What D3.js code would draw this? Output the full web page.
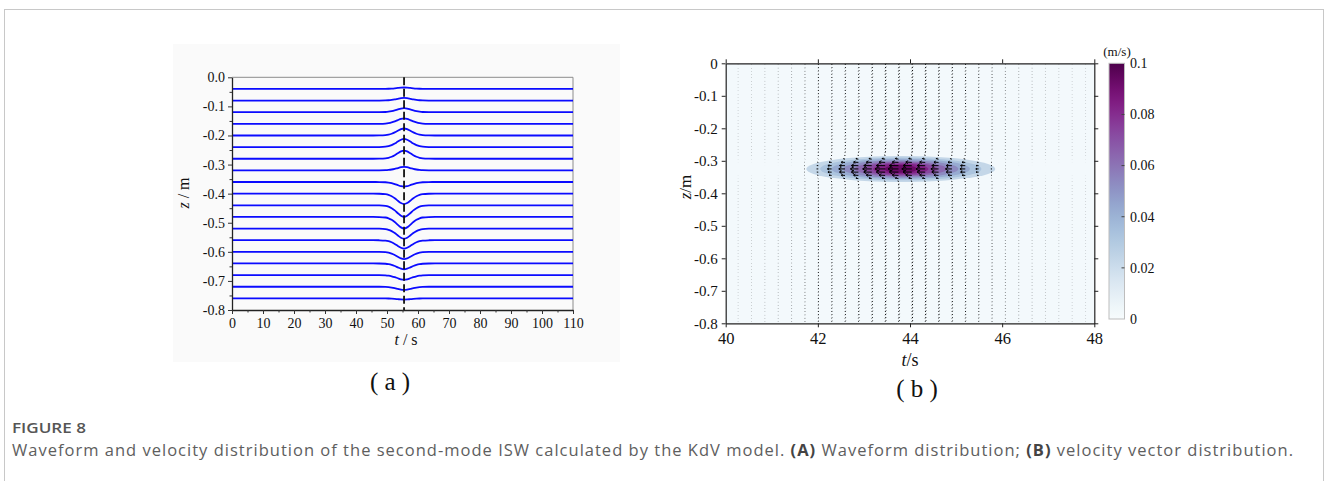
<!DOCTYPE html>
<html>
<head>
<meta charset="utf-8">
<script src="https://cdn.jsdelivr.net/npm/d3@7"></script>
<style>
body { margin: 0; background: #fff; }
</style>
</head>
<body>
<svg id="fig" width="1328" height="481"></svg>
<script>

//******************************************************************************
//**  Data
//******************************************************************************

// (a) waveform: rest depth of each isopycnal line (m) and its peak displacement (m)
var levelsZ = [-0.04, -0.08, -0.12, -0.16, -0.20, -0.24, -0.28, -0.32, -0.36, -0.40,
               -0.44, -0.48, -0.52, -0.56, -0.60, -0.64, -0.68, -0.72, -0.76];
var amplitudes = [0.005, 0.009, 0.014, 0.019, 0.024, 0.028, 0.028, 0.012, -0.016, -0.036,
                  -0.040, -0.040, -0.035, -0.029, -0.025, -0.020, -0.016, -0.011, -0.004];
var waveCenter = 55.5;   // s, dashed line
// relative shape of the wave around its centre (s offset, fraction of peak)
var profileDt  = [-12, -10, -8, -6, -5, -4, -3, -2, -1, 0, 1, 2, 3, 4, 5, 6, 8, 10, 12];
var profileVal = [0, 0, 0.01, 0.05, 0.12, 0.25, 0.44, 0.68, 0.9, 1, 0.9, 0.68, 0.44, 0.25, 0.12, 0.05, 0.01, 0, 0];

var xTicksA = [0, 10, 20, 30, 40, 50, 60, 70, 80, 90, 100, 110];
var xMinorA = [5, 15, 25, 35, 45, 55, 65, 75, 85, 95, 105];
var yTicks  = [0, -0.1, -0.2, -0.3, -0.4, -0.5, -0.6, -0.7, -0.8];
var yMinorA = [-0.05, -0.15, -0.25, -0.35, -0.45, -0.55, -0.65, -0.75];

// (b) velocity field
var coreT = 43.8, coreZ = -0.325;
var backgroundSpeed = 0.002;
// filled contour bands: level (m/s), half extent in t (s) and in z (m)
var bandLevel = [0.01, 0.02, 0.03, 0.04, 0.05, 0.06, 0.07, 0.08];
var bandHalfT = [2.05, 1.75, 1.5, 1.25, 1.0, 0.8, 0.6, 0.35];
var bandHalfZ = [0.040, 0.035, 0.031, 0.027, 0.023, 0.020, 0.016, 0.012];

// quiver columns: time (s), peak horizontal speed at the core (m/s), vertical speed (m/s)
var colT = [40.27, 40.56, 40.85, 41.14, 41.43, 41.72, 42.01, 42.30, 42.59, 42.88, 43.17, 43.46, 43.75, 44.04,
            44.33, 44.62, 44.91, 45.20, 45.49, 45.78, 46.07, 46.36, 46.65, 46.94, 47.23, 47.52, 47.81];
var colU = [0, 0, 0, 0, 0, 0.005, 0.015, 0.036, 0.053, 0.068, 0.077, 0.085, 0.088, 0.085,
            0.078, 0.065, 0.055, 0.045, 0.024, 0.01, 0.003, 0, 0, 0, 0, 0, 0];
var colW = [0.0009, 0.001, 0.0012, 0.0014, 0.0018, 0.0028, 0.0055, 0.0055, 0.006, 0.0065, 0.007, 0.008, 0.0085, 0.0085,
            0.008, 0.0075, 0.0065, 0.0055, 0.0045, 0.0035, 0.0025, 0.0018, 0.0014, 0.0012, 0.001, 0.0009, 0.0008];
// across the core (row offset from core, m): horizontal speed relative to the column peak,
// and vertical speed relative to the column value
var rowDz = [-0.06, -0.05, -0.04, -0.03, -0.02, -0.01, 0, 0.01, 0.02, 0.03, 0.04, 0.05, 0.06];
var rowU  = [0.08, 0.05, -0.05, -0.3, -0.6, -0.88, -1, -0.88, -0.6, -0.3, -0.05, 0.05, 0.08];
var rowW  = [1, 1, 0.9, 0.5, 0.25, 0.1, 0, 0.1, 0.25, 0.5, 0.9, 1, 1];
var farU  = 0.1;

var xTicksB = [40, 42, 44, 46, 48];
var cbarTicks = [0, 0.02, 0.04, 0.06, 0.08, 0.1];


//******************************************************************************
//**  Drawing
//******************************************************************************
var svg = d3.select("#fig");
var serif = "Liberation Serif, Times New Roman, serif";
var defs = svg.append("defs");

var styleTicks = function(g, size){
    g.attr("font-family", serif).attr("font-size", size);
    g.selectAll("text")
        .attr("font-family", serif)
        .attr("font-size", size + "px")
        .attr("fill", "#111");
};

// outer frame of the figure
svg.append("rect")
    .attr("x", 4.5).attr("y", 9.5)
    .attr("width", 1319).attr("height", 520)
    .attr("fill", "none").attr("stroke", "#c8c8c8");


//**************************************************************************
//** Panel (a)
//**************************************************************************
var gA = svg.append("g").attr("font-family", serif);

gA.append("rect")
    .attr("x", 173).attr("y", 44)
    .attr("width", 447).attr("height", 318)
    .attr("fill", "#fafafa");

var xA = d3.scaleLinear().domain([0, 110]).range([232, 573]);
var yA = d3.scaleLinear().domain([0, -0.8]).range([77.3, 310]);

// top and right border are lighter
gA.append("path")
    .attr("d", "M" + xA(0) + "," + yA(0) + "H" + xA(110) + "V" + yA(-0.8))
    .attr("fill", "none").attr("stroke", "#8c8c8c").attr("stroke-width", 1);

var waveLine = d3.line()
    .x(function(d){ return xA(d[0]); })
    .y(function(d){ return yA(d[1]); })
    .curve(d3.curveMonotoneX);

levelsZ.forEach(function(z0, i){
    var pts = [[0, z0]];
    profileDt.forEach(function(dt, j){
        pts.push([waveCenter + dt, z0 + amplitudes[i] * profileVal[j]]);
    });
    pts.push([110, z0]);
    gA.append("path")
        .attr("d", waveLine(pts))
        .attr("fill", "none")
        .attr("stroke", "#0b0bff")
        .attr("stroke-width", 1.8);
});

gA.append("line")
    .attr("x1", xA(waveCenter)).attr("x2", xA(waveCenter))
    .attr("y1", yA(0)).attr("y2", yA(-0.8))
    .attr("stroke", "#111").attr("stroke-width", 1.8)
    .attr("stroke-dasharray", "8,3.5");

var fmtA = function(d){ return d === 0 ? "0.0" : d.toFixed(1); };

gA.append("g")
    .attr("transform", "translate(0," + yA(-0.8) + ")")
    .call(d3.axisBottom(xA).tickValues(xTicksA).tickSize(4).tickSizeOuter(0).tickPadding(4))
    .call(styleTicks, 14);
gA.append("g")
    .attr("transform", "translate(0," + yA(-0.8) + ")")
    .call(d3.axisBottom(xA).tickValues(xMinorA).tickSize(2.5).tickSizeOuter(0).tickFormat(""))
    .select(".domain").remove();
gA.append("g")
    .attr("transform", "translate(" + xA(0) + ",0)")
    .call(d3.axisLeft(yA).tickValues(yTicks).tickFormat(fmtA).tickSize(4).tickSizeOuter(0).tickPadding(3))
    .call(styleTicks, 14);
gA.append("g")
    .attr("transform", "translate(" + xA(0) + ",0)")
    .call(d3.axisLeft(yA).tickValues(yMinorA).tickSize(2.5).tickSizeOuter(0).tickFormat(""))
    .select(".domain").remove();

gA.selectAll(".domain").attr("stroke", "#222").attr("stroke-width", 1.3);
gA.selectAll(".tick line").attr("stroke", "#333");

gA.append("text")
    .attr("x", 406).attr("y", 345)
    .attr("text-anchor", "middle").attr("font-size", "16px").attr("fill", "#111")
    .html("<tspan font-style='italic'>t</tspan> / s");
gA.append("text")
    .attr("transform", "translate(189,193) rotate(-90)")
    .attr("text-anchor", "middle").attr("font-size", "16px").attr("fill", "#111")
    .html("<tspan font-style='italic'>z</tspan> / m");
gA.append("text")
    .attr("x", 390).attr("y", 390)
    .attr("text-anchor", "middle").attr("font-size", "25px").attr("fill", "#111")
    .text("( a )");


//**************************************************************************
//** Panel (b)
//**************************************************************************
var gB = svg.append("g").attr("font-family", serif);

var xB = d3.scaleLinear().domain([40, 48]).range([725.7, 1094.3]);
var yB = d3.scaleLinear().domain([0, -0.8]).range([63.3, 323.3]);
var color = d3.scaleSequential(d3.interpolateBuPu).domain([0, 0.1]);

defs.append("clipPath").attr("id", "clipB")
    .append("rect")
    .attr("x", xB(40)).attr("y", yB(0))
    .attr("width", xB(48) - xB(40)).attr("height", yB(-0.8) - yB(0));

var plotB = gB.append("g").attr("clip-path", "url(#clipB)");

plotB.append("rect")
    .attr("x", xB(40)).attr("y", yB(0))
    .attr("width", xB(48) - xB(40)).attr("height", yB(-0.8) - yB(0))
    .attr("fill", color(backgroundSpeed));

// contour bands, widest first
bandLevel.forEach(function(lev, i){
    plotB.append("ellipse")
        .attr("cx", xB(coreT)).attr("cy", yB(coreZ))
        .attr("rx", xB(coreT + bandHalfT[i]) - xB(coreT))
        .attr("ry", yB(coreZ - bandHalfZ[i]) - yB(coreZ))
        .attr("fill", color(lev + 0.013));
});

// quiver
var uScale = 118;   // px per m/s
var wScale = 175;
var rowsZ = d3.range(80).map(function(k){ return -0.005 - 0.01 * k; });
var arrowPath = "";
colT.forEach(function(t, k){
    rowsZ.forEach(function(z){
        var idx = Math.round((z - coreZ) * 100) + 6;
        var inCore = idx >= 0 && idx < rowU.length;
        var relU = inCore ? rowU[idx] : farU;
        var relW = inCore ? rowW[idx] : 1;
        var x1 = xB(t), y1 = yB(z);
        var dx = colU[k] * relU * uScale;
        var dy = -colW[k] * relW * wScale;
        var x2 = x1 + dx, y2 = y1 + dy;
        arrowPath += "M" + x1.toFixed(2) + "," + y1.toFixed(2) + "L" + x2.toFixed(2) + "," + y2.toFixed(2);
        var len = Math.sqrt(dx * dx + dy * dy);
        if (Math.abs(dx) > 2){
            var ang = Math.atan2(dy, dx), h = Math.min(4, 0.45 * len), a = 0.6;
            arrowPath += "M" + (x2 - h * Math.cos(ang - a)).toFixed(2) + "," + (y2 - h * Math.sin(ang - a)).toFixed(2) +
                         "L" + x2.toFixed(2) + "," + y2.toFixed(2) +
                         "L" + (x2 - h * Math.cos(ang + a)).toFixed(2) + "," + (y2 - h * Math.sin(ang + a)).toFixed(2);
        }
    });
});
plotB.append("path")
    .attr("d", arrowPath)
    .attr("fill", "none").attr("stroke", "#000").attr("stroke-width", 1);

// axes on all four sides, ticks outward
gB.append("g")
    .attr("transform", "translate(0," + yB(-0.8) + ")")
    .call(d3.axisBottom(xB).tickValues(xTicksB).tickSize(4).tickSizeOuter(0).tickPadding(5))
    .call(styleTicks, 16.5);
gB.append("g")
    .attr("transform", "translate(0," + yB(0) + ")")
    .call(d3.axisTop(xB).tickValues(xTicksB).tickSize(4).tickSizeOuter(0).tickFormat(""));
gB.append("g")
    .attr("transform", "translate(" + xB(40) + ",0)")
    .call(d3.axisLeft(yB).tickValues(yTicks).tickSize(4).tickSizeOuter(0).tickPadding(4)
        .tickFormat(function(d){ return d === 0 ? "0" : d.toFixed(1); }))
    .call(styleTicks, 15);
gB.append("g")
    .attr("transform", "translate(" + xB(48) + ",0)")
    .call(d3.axisRight(yB).tickValues(yTicks).tickSize(4).tickSizeOuter(0).tickFormat(""));

gB.selectAll(".domain").attr("stroke", "#222").attr("stroke-width", 1.2);
gB.selectAll(".tick line").attr("stroke", "#222");

gB.append("text")
    .attr("x", 910).attr("y", 366)
    .attr("text-anchor", "middle").attr("font-size", "18px").attr("fill", "#111")
    .html("<tspan font-style='italic'>t</tspan>/s");
gB.append("text")
    .attr("transform", "translate(691,187) rotate(-90)")
    .attr("text-anchor", "middle").attr("font-size", "17px").attr("fill", "#111")
    .html("<tspan font-style='italic'>z</tspan>/m");
gB.append("text")
    .attr("x", 917).attr("y", 397)
    .attr("text-anchor", "middle").attr("font-size", "25px").attr("fill", "#111")
    .text("( b )");

// colour bar
var cy = d3.scaleLinear().domain([0, 0.1]).range([319, 63.3]);
var grad = defs.append("linearGradient")
    .attr("id", "cbarGrad")
    .attr("x1", 0).attr("y1", 1).attr("x2", 0).attr("y2", 0);
d3.range(0, 1.0001, 0.05).forEach(function(f){
    grad.append("stop").attr("offset", f).attr("stop-color", color(f * 0.1));
});
gB.append("rect")
    .attr("x", 1109).attr("y", cy(0.1))
    .attr("width", 15.5).attr("height", cy(0) - cy(0.1))
    .attr("fill", "url(#cbarGrad)")
    .attr("stroke", "#bdbdbd").attr("stroke-width", 1);
gB.selectAll(".cbtick")
    .data(cbarTicks.slice(1, -1))
    .enter().append("line")
    .attr("x1", 1124.5).attr("x2", 1121.5)
    .attr("y1", function(d){ return cy(d); }).attr("y2", function(d){ return cy(d); })
    .attr("stroke", "#444");
gB.selectAll(".cblabel")
    .data(cbarTicks)
    .enter().append("text")
    .attr("x", 1130).attr("y", function(d){ return cy(d); })
    .attr("dy", "0.35em")
    .attr("font-size", "14px").attr("fill", "#111")
    .text(function(d){ return d === 0 ? "0" : String(+d.toFixed(2)); });
gB.append("text")
    .attr("x", 1117).attr("y", 56)
    .attr("text-anchor", "middle").attr("font-size", "13px").attr("fill", "#111")
    .text("(m/s)");


//**************************************************************************
//** Caption
//**************************************************************************
var sans = "Open Sans, Noto Sans, sans-serif";
svg.append("text")
    .attr("x", 12).attr("y", 433)
    .attr("font-family", sans).attr("font-size", "14px").attr("font-weight", 600)
    .attr("fill", "#555")
    .attr("textLength", 74).attr("lengthAdjust", "spacingAndGlyphs")
    .text("FIGURE 8");
svg.append("text")
    .attr("x", 12).attr("y", 456)
    .attr("font-family", sans).attr("font-size", "16.5px")
    .attr("fill", "#5e5e5e")
    .attr("textLength", 1281).attr("lengthAdjust", "spacing")
    .html("Waveform and velocity distribution of the second-mode ISW calculated by the KdV model. " +
          "<tspan font-weight='700' fill='#444'>(A)</tspan> Waveform distribution; " +
          "<tspan font-weight='700' fill='#444'>(B)</tspan> velocity vector distribution.");

</script>
</body>
</html>
